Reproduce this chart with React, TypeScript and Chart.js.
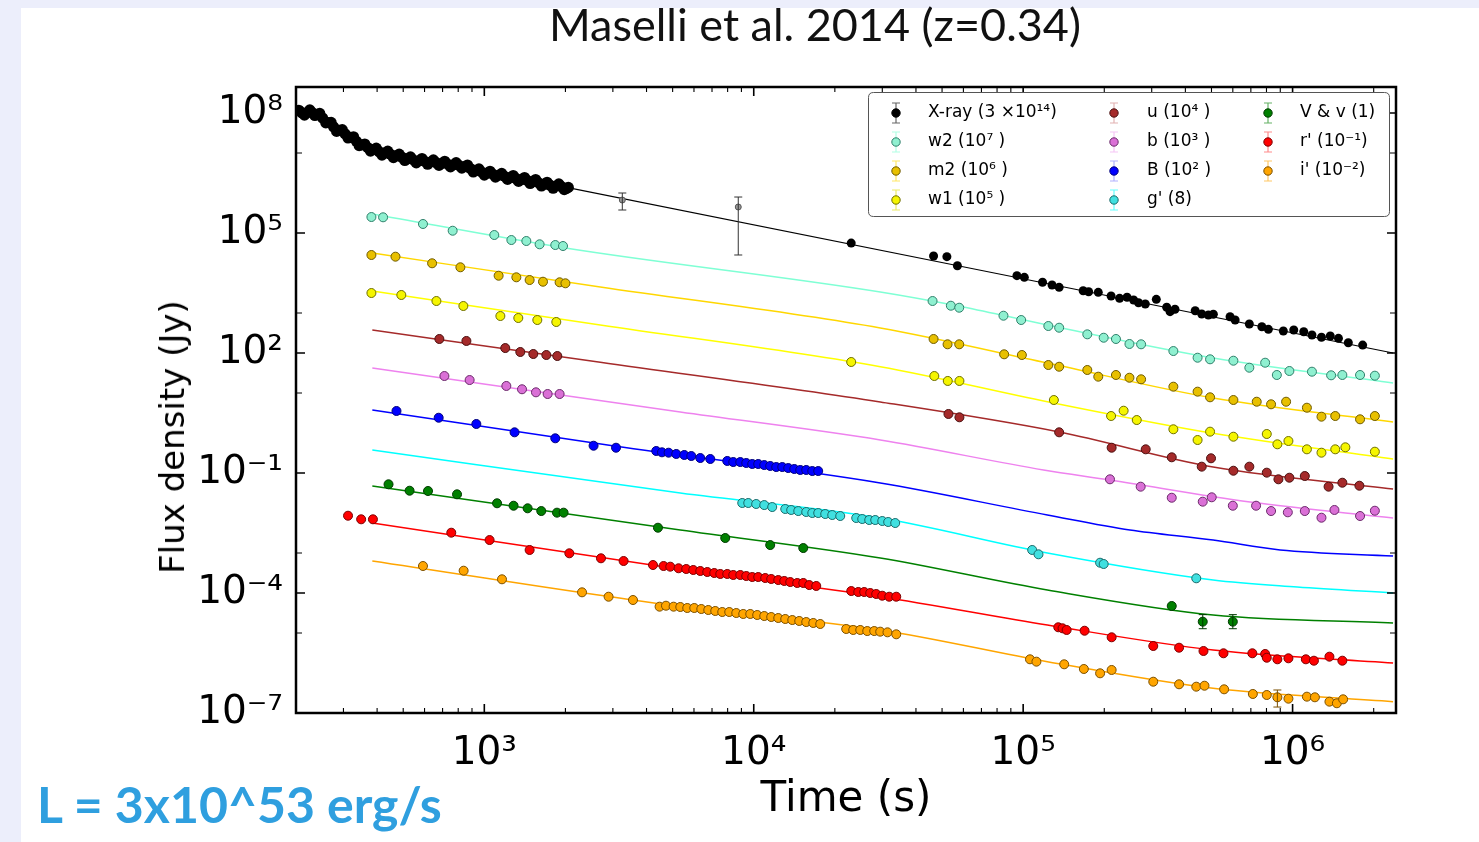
import React, { useEffect, useRef } from 'react';
import { Chart, registerables } from 'chart.js';
Chart.register(...registerables);

// ---------- axes ----------
const X_MIN = 200;
const X_MAX = 2.42e6;
const Y_MIN = 1e-7;
const Y_MAX = 4.47e8;
const xTickValues = [1e3, 1e4, 1e5, 1e6];
const xTickLabels = ['10³', '10⁴', '10⁵', '10⁶'];
const yTickValues = [1e-7, 1e-4, 1e-1, 1e2, 1e5, 1e8];
const yTickLabels = ['10⁻⁷', '10⁻⁴', '10⁻¹', '10²', '10⁵', '10⁸'];
const yMinorTickValues = [1e-5, 1e-3, 1e1, 1e3, 1e7];

// ---------- X-ray (x 3e14) ----------
// dense early band: upper/lower edge readings and centre-line readings
const xrayEarlyT = [205, 215, 225, 235, 245, 258, 270, 283, 297, 312, 327, 343, 360, 378, 397, 417, 438, 460, 483, 507, 532, 559, 587, 616, 647, 679, 713, 749, 786, 825, 866, 910, 955, 1000, 1050, 1100, 1160, 1220, 1280, 1340, 1410, 1480, 1550, 1630, 1710, 1800, 1890, 1980, 2050];
const xrayEarlyF = [1.17e8, 8.9e7, 1.2e8, 8.7e7, 9.8e7, 5.7e7, 5.8e7, 3.47e7, 3.85e7, 2.37e7, 2.54e7, 1.53e7, 1.68e7, 1.12e7, 1.32e7, 8.9e6, 1.11e7, 7.7e6, 9.4e6, 6.5e6, 8.0e6, 5.7e6, 7.3e6, 5.25e6, 6.7e6, 4.9e6, 6.2e6, 4.5e6, 5.75e6, 4.2e6, 5.0e6, 3.35e6, 4.0e6, 2.8e6, 3.5e6, 2.5e6, 3.1e6, 2.19e6, 2.74e6, 1.95e6, 2.44e6, 1.73e6, 2.17e6, 1.5e6, 1.86e6, 1.32e6, 1.69e6, 1.22e6, 1.38e6];
const xrayMidT = [210, 220, 230, 240, 251, 264, 276, 290, 304, 319, 335, 351, 369, 387, 407, 427, 449, 471, 495, 519, 545, 573, 601, 631, 663, 696, 731, 767, 805, 845, 888, 932, 977, 1025, 1075, 1130, 1190, 1250, 1310, 1375, 1445, 1515, 1590, 1670, 1755, 1845, 1935, 2015];
const xrayMidF = [1.02e8, 1.03e8, 1.02e8, 9.2e7, 7.5e7, 5.75e7, 4.49e7, 3.66e7, 3.02e7, 2.45e7, 1.97e7, 1.6e7, 1.37e7, 1.22e7, 1.08e7, 9.94e6, 9.25e6, 8.51e6, 7.82e6, 7.21e6, 6.75e6, 6.45e6, 6.19e6, 5.93e6, 5.73e6, 5.51e6, 5.28e6, 5.09e6, 4.91e6, 4.58e6, 4.09e6, 3.66e6, 3.35e6, 3.13e6, 2.96e6, 2.78e6, 2.61e6, 2.45e6, 2.31e6, 2.18e6, 2.05e6, 1.94e6, 1.8e6, 1.67e6, 1.57e6, 1.49e6, 1.44e6, 1.3e6];
const xrayLateT = [23000, 46500, 52100, 57000, 94800, 101000, 118000, 128000, 136000, 167000, 175000, 190000, 212000, 228000, 243000, 257000, 268000, 284000, 312000, 341000, 351000, 366000, 435000, 460000, 487000, 508000, 586000, 612000, 691000, 769000, 813000, 924000, 1010000, 1100000, 1180000, 1280000, 1380000, 1480000, 1610000, 1820000];
const xrayLateF = [5.6e4, 2.66e4, 2.56e4, 1.52e4, 8600, 7800, 5860, 5000, 4390, 3610, 3410, 3290, 2660, 2330, 2470, 2110, 1810, 1680, 2200, 1390, 1080, 1240, 1140, 944, 891, 928, 808, 668, 531, 454, 391, 355, 376, 341, 282, 247, 266, 233, 181, 158];
const xrayModelT = [2000, 2360000];
const xrayModelF = [1.41e6, 100];
const xrayBatT = [3252, 8760];
const xrayBatF = [6.68e5, 4.47e5];
const xrayBatLo = [3.76e5, 2.82e4];
const xrayBatHi = [1.0e6, 7.94e5];

// ---------- w2 (x 1e7) ----------
const w2T = [381, 421, 592, 763, 1089, 1260, 1432, 1604, 1834, 1959, 46100, 53900, 57900, 84500, 98300, 124000, 136000, 173000, 199000, 221000, 248000, 274000, 361000, 444000, 494000, 603000, 691000, 791000, 874000, 973000, 1180000, 1390000, 1530000, 1780000, 2020000];
const w2F = [2.51e5, 2.47e5, 1.68e5, 1.14e5, 8.91e4, 6.68e4, 6.31e4, 5.22e4, 5.01e4, 4.73e4, 1995, 1522, 1357, 856, 668, 473, 429, 293, 241, 224, 168, 165, 112, 76.3, 69.6, 64.2, 42.9, 57.2, 28.2, 35.5, 34.1, 27.7, 28.2, 28.2, 27.1];
const w2ModelT = [384, 2000, 29500, 59900, 123000, 507000, 2360000];
const w2ModelF = [2.99e5, 4.22e4, 3350, 1413, 501, 75, 17.8];

// ---------- m2 (x 1e6) ----------
const m2T = [381, 468, 640, 815, 1130, 1315, 1473, 1651, 1903, 2000, 46500, 52400, 57900, 85000, 98900, 124000, 136000, 173000, 190000, 221000, 248000, 274000, 361000, 444000, 494000, 603000, 736000, 832000, 946000, 1130000, 1280000, 1440000, 1780000, 2020000];
const m2F = [2.82e4, 2.56e4, 1.75e4, 1.39e4, 8560, 7810, 6680, 6060, 5855, 5530, 224, 165, 165, 92.8, 89.1, 50.1, 45.4, 37.6, 25.6, 28.2, 24.1, 22.0, 14.4, 10.8, 7.81, 6.68, 6.06, 5.22, 6.06, 4.29, 2.56, 2.66, 2.2, 2.66];
const m2ModelT = [384, 2694, 29500, 123000, 507000, 2360000];
const m2ModelF = [3.16e4, 4470, 422, 56.2, 7.5, 1.88];

// ---------- w1 (x 1e5) ----------
const w1T = [381, 492, 664, 836, 1147, 1337, 1573, 1850, 23000, 46800, 52500, 58000, 130000, 212000, 236000, 264000, 361000, 444000, 494000, 603000, 802000, 878000, 965000, 1130000, 1280000, 1440000, 1570000, 2020000];
const w1F = [3160, 2820, 1995, 1496, 841, 750, 668, 596, 59.6, 26.6, 20.0, 20.0, 6.68, 2.66, 3.61, 2.11, 1.24, 0.668, 1.08, 0.808, 0.944, 0.522, 0.631, 0.391, 0.322, 0.391, 0.439, 0.341];
const w1ModelT = [384, 2694, 29500, 123000, 507000, 2360000];
const w1ModelF = [3550, 501, 45.4, 6.06, 0.983, 0.224];

// ---------- u (x 1e4) ----------
const uT = [681, 858, 1196, 1360, 1520, 1699, 1866, 52800, 58000, 136000, 213000, 285000, 356000, 460000, 498000, 603000, 691000, 802000, 886000, 973000, 1110000, 1360000, 1530000, 1770000];
const uF = [224, 200, 133, 106, 94.4, 89.1, 84.1, 2.99, 2.47, 1.04, 0.429, 0.391, 0.247, 0.144, 0.233, 0.114, 0.144, 0.102, 0.0696, 0.0763, 0.0841, 0.0455, 0.0572, 0.0481];
const uModelT = [384, 2694, 29500, 136000, 507000, 2360000];
const uModelF = [376, 58.5, 5.96, 1.06, 0.141, 0.0398];

// ---------- b (x 1e3) ----------
const bT = [711, 882, 1207, 1380, 1555, 1718, 1903, 210000, 273000, 356000, 464000, 501000, 600000, 732000, 832000, 960000, 1110000, 1280000, 1430000, 1780000, 2020000];
const bF = [26.6, 21.1, 15.0, 12.4, 10.4, 9.44, 9.44, 0.0696, 0.0455, 0.0241, 0.0192, 0.0247, 0.0152, 0.0152, 0.0112, 0.0104, 0.0112, 0.00763, 0.0119, 0.00841, 0.0114];
const bModelT = [384, 5338, 29500, 119000, 210000, 695000, 2360000];
const bModelF = [42.2, 3.35, 0.668, 0.119, 0.0668, 0.0188, 0.0075];

// ---------- B (x 1e2) ----------
const BT = [472, 677, 934, 1295, 1834, 2544, 3082, 4346, 4564, 4830, 5157, 5524, 5863, 6332, 6897, 7974, 8393, 8914, 9380, 9872, 10390, 10940, 11510, 12120, 12760, 13430, 14140, 14880, 15660, 16490, 17350];
const BF = [3.55, 2.41, 1.68, 1.04, 0.737, 0.481, 0.429, 0.355, 0.329, 0.322, 0.299, 0.282, 0.266, 0.237, 0.224, 0.2, 0.188, 0.188, 0.178, 0.168, 0.168, 0.158, 0.15, 0.141, 0.141, 0.133, 0.126, 0.119, 0.119, 0.112, 0.112];
const BModelT = [384, 3037, 29500, 123000, 249000, 507000, 899000, 2360000];
const BModelF = [3.76, 0.473, 0.0562, 0.00891, 0.00376, 0.00211, 0.00119, 0.000841];

// ---------- g' (x 8) ----------
const gT = [9064, 9541, 10210, 10940, 11710, 13090, 13770, 14630, 15660, 16490, 17350, 18420, 19560, 20940, 24010, 25270, 26830, 28240, 29990, 31550, 33500, 108000, 114000, 193000, 199000, 439000];
const gF = [0.0178, 0.0178, 0.0168, 0.0158, 0.0141, 0.0126, 0.0119, 0.0112, 0.0106, 0.01, 0.01, 0.00944, 0.00891, 0.00841, 0.0075, 0.00708, 0.00668, 0.00668, 0.00631, 0.00596, 0.00562, 0.00119, 0.000928, 0.000572, 0.000531, 0.000233];
const gModelT = [384, 5338, 29500, 123000, 507000, 1040000, 2360000];
const gModelF = [0.376, 0.0316, 0.0075, 0.001, 0.000211, 0.000141, 0.0001];

// ---------- V & v (x 1) ----------
const vT = [441, 528, 618, 792, 1115, 1284, 1448, 1627, 1861, 1969, 4410, 7838, 11510, 15270, 356000, 464000, 600000];
const vF = [0.0522, 0.0361, 0.0355, 0.0293, 0.0175, 0.0152, 0.0131, 0.0112, 0.0102, 0.0102, 0.00429, 0.00237, 0.00158, 0.00133, 4.73e-5, 1.92e-5, 1.92e-5];
const vErrLo = [null, null, null, null, null, null, null, null, null, null, null, null, null, null, null, 1.28e-5, 1.28e-5];
const vErrHi = [null, null, null, null, null, null, null, null, null, null, null, null, null, null, null, 2.88e-5, 2.88e-5];
const vModelT = [384, 5338, 29500, 123000, 507000, 2360000];
const vModelF = [0.0473, 0.00376, 0.00075, 0.000119, 2.82e-5, 1.78e-5];

// ---------- r' (x 1e-1) ----------
const rT = [312, 349, 386, 754, 1046, 1473, 2068, 2710, 3288, 4227, 4627, 4899, 5260, 5616, 5964, 6332, 6722, 7135, 7512, 7974, 8393, 8914, 9380, 9872, 10390, 11030, 11610, 12330, 12980, 13660, 14500, 15270, 16070, 17060, 23010, 24430, 25700, 27060, 28480, 29990, 31830, 33800, 135000, 140000, 145000, 169000, 213000, 304000, 379000, 467000, 554000, 709000, 791000, 802000, 878000, 965000, 1120000, 1200000, 1370000, 1530000];
const rF = [0.00856, 0.00696, 0.00696, 0.00322, 0.00211, 0.00119, 0.000983, 0.000737, 0.000631, 0.000501, 0.000473, 0.000455, 0.000415, 0.000398, 0.000376, 0.000355, 0.000335, 0.000316, 0.000299, 0.000299, 0.000282, 0.000282, 0.000266, 0.000251, 0.000251, 0.000237, 0.000224, 0.000211, 0.0002, 0.000188, 0.000178, 0.000178, 0.000158, 0.00015, 0.000112, 0.000106, 0.000106, 0.0001, 9.44e-5, 8.56e-5, 8.08e-5, 8.08e-5, 1.39e-5, 1.31e-5, 1.19e-5, 1.14e-5, 7.81e-6, 4.73e-6, 4.29e-6, 3.55e-6, 3.11e-6, 3.11e-6, 2.99e-6, 2.41e-6, 2.2e-6, 2.33e-6, 2.2e-6, 2.03e-6, 2.56e-6, 2.03e-6];
const rModelT = [384, 5338, 29500, 123000, 507000, 2360000];
const rModelF = [0.00562, 0.000391, 8.08e-5, 1.58e-5, 3.76e-6, 1.78e-6];

// ---------- i' (x 1e-2) ----------
const iT = [592, 838, 1163, 2305, 2892, 3563, 4472, 4723, 5041, 5338, 5665, 6015, 6387, 6780, 7196, 7640, 8111, 8612, 9141, 9705, 10300, 10940, 11610, 12330, 13090, 13900, 14750, 15660, 16630, 17650, 22040, 23400, 24850, 26380, 28000, 29470, 31360, 33800, 106000, 112000, 142000, 168000, 193000, 213000, 304000, 379000, 439000, 471000, 557000, 712000, 802000, 878000, 965000, 1130000, 1210000, 1370000, 1460000, 1540000];
const iF = [0.000473, 0.000361, 0.00022, 0.000104, 8.08e-5, 6.68e-5, 4.55e-5, 4.81e-5, 4.55e-5, 4.47e-5, 4.22e-5, 4.22e-5, 3.98e-5, 3.76e-5, 3.55e-5, 3.35e-5, 3.35e-5, 3.16e-5, 2.99e-5, 2.99e-5, 2.82e-5, 2.66e-5, 2.51e-5, 2.37e-5, 2.24e-5, 2.11e-5, 2.0e-5, 1.88e-5, 1.78e-5, 1.68e-5, 1.26e-5, 1.19e-5, 1.19e-5, 1.12e-5, 1.12e-5, 1.08e-5, 1.04e-5, 9.28e-6, 2.2e-6, 1.92e-6, 1.65e-6, 1.26e-6, 9.83e-7, 1.19e-6, 6.06e-7, 5.22e-7, 4.55e-7, 4.81e-7, 3.91e-7, 2.99e-7, 2.82e-7, 2.47e-7, 2.28e-7, 2.56e-7, 2.47e-7, 1.92e-7, 1.75e-7, 2.2e-7];
const iErrLo = iT.map((t) => (t === 878000 ? 1.41e-7 : null));
const iErrHi = iT.map((t) => (t === 878000 ? 3.76e-7 : null));
const iModelT = [384, 5338, 29500, 123000, 507000, 2360000];
const iModelF = [0.000631, 4.55e-5, 1.19e-5, 1.92e-6, 4.14e-7, 1.92e-7];

const legendLabels = ['X-ray (3 ×10¹⁴)', 'w2 (10⁷ )', 'm2 (10⁶ )', 'w1 (10⁵ )', 'u (10⁴ )', 'b (10³ )', 'B (10² )', "g' (8)", 'V & v (1)', "r' (10⁻¹)", "i' (10⁻²)"];

// ---------- styles ----------
const bandStyles = [
  { fill: '#000000', edge: '#000000', line: '#000000', bar: '#000000' },
  { fill: '#8ff0d0', edge: '#2f7f6a', line: '#7fffd4', bar: '#7fffd4' },
  { fill: '#e8c000', edge: '#6e5a00', line: '#ffd700', bar: '#ffd700' },
  { fill: '#f5f500', edge: '#6e6e00', line: '#ffff00', bar: '#e0e000' },
  { fill: '#a52a2a', edge: '#4a1010', line: '#a52a2a', bar: '#d08080' },
  { fill: '#da70d6', edge: '#6a2a6a', line: '#ee82ee', bar: '#f0a0f0' },
  { fill: '#0000ff', edge: '#00007a', line: '#0000ff', bar: '#8080ff' },
  { fill: '#40e0e0', edge: '#1a6a6a', line: '#00ffff', bar: '#00ffff' },
  { fill: '#008000', edge: '#003a00', line: '#008000', bar: '#008000' },
  { fill: '#ff0000', edge: '#7a0000', line: '#ff0000', bar: '#ff4040' },
  { fill: '#ffa500', edge: '#7a4f00', line: '#ffa500', bar: '#ffa500' },
];

const pts = (t: number[], f: number[]) => t.map((v, i) => ({ x: v, y: f[i] }));

const bands: any[] = [
  { name: 'X-ray', data: pts(xrayLateT, xrayLateF), model: pts(xrayModelT, xrayModelF), r: 4.5 },
  { name: 'w2', data: pts(w2T, w2F), model: pts(w2ModelT, w2ModelF), r: 4.5 },
  { name: 'm2', data: pts(m2T, m2F), model: pts(m2ModelT, m2ModelF), r: 4.5 },
  { name: 'w1', data: pts(w1T, w1F), model: pts(w1ModelT, w1ModelF), r: 4.5 },
  { name: 'u', data: pts(uT, uF), model: pts(uModelT, uModelF), r: 4.5 },
  { name: 'b', data: pts(bT, bF), model: pts(bModelT, bModelF), r: 4.5 },
  { name: 'B', data: pts(BT, BF), model: pts(BModelT, BModelF), r: 4.5 },
  { name: "g'", data: pts(gT, gF), model: pts(gModelT, gModelF), r: 4.5 },
  { name: 'V & v', data: pts(vT, vF), model: pts(vModelT, vModelF), r: 4.5, lo: vErrLo, hi: vErrHi },
  { name: "r'", data: pts(rT, rF), model: pts(rModelT, rModelF), r: 4.5 },
  { name: "i'", data: pts(iT, iF), model: pts(iModelT, iModelF), r: 4.5, lo: iErrLo, hi: iErrHi },
];

function buildDatasets() {
  const ds: any[] = [];
  bands.forEach((b, k) => {
    const s = bandStyles[k];
    ds.push({
      label: b.name + ' model',
      data: b.model,
      showLine: true,
      borderColor: s.line,
      borderWidth: k === 0 ? 1.2 : 1.5,
      pointRadius: 0,
      cubicInterpolationMode: 'monotone',
      order: 3,
    });
  });
  ds.push({
    label: 'X-ray early',
    data: pts(xrayEarlyT, xrayEarlyF).concat(pts(xrayMidT, xrayMidF)),
    showLine: false,
    backgroundColor: '#000',
    borderColor: '#000',
    borderWidth: 0,
    pointRadius: 5.6,
    order: 1,
  });
  bands.forEach((b, k) => {
    const s = bandStyles[k];
    ds.push({
      label: b.name,
      data: b.data,
      showLine: false,
      backgroundColor: s.fill,
      borderColor: s.edge,
      borderWidth: k === 0 ? 0 : 1,
      pointRadius: b.r,
      errLo: b.lo,
      errHi: b.hi,
      errColor: s.edge,
      order: 1,
    });
  });
  ds.push({
    label: 'X-ray (BAT)',
    data: pts(xrayBatT, xrayBatF),
    showLine: false,
    backgroundColor: '#9a9a9a',
    borderColor: '#555555',
    borderWidth: 1,
    pointRadius: 3,
    errLo: xrayBatLo,
    errHi: xrayBatHi,
    errColor: '#333333',
    order: 1,
  });
  return ds;
}

const overlayPlugin = {
  id: 'overlay',
  afterDatasetsDraw(chart: any) {
    const ctx = chart.ctx;
    const xs = chart.scales.x;
    const ys = chart.scales.y;
    ctx.save();
    chart.data.datasets.forEach((d: any) => {
      if (!d.errLo) return;
      ctx.strokeStyle = d.errColor;
      ctx.lineWidth = 1;
      d.data.forEach((p: any, i: number) => {
        const lo = d.errLo[i];
        const hi = d.errHi[i];
        if (lo == null || hi == null) return;
        const x = xs.getPixelForValue(p.x);
        const y1 = ys.getPixelForValue(lo);
        const y2 = ys.getPixelForValue(hi);
        ctx.beginPath();
        ctx.moveTo(x, y1); ctx.lineTo(x, y2);
        ctx.moveTo(x - 4, y1); ctx.lineTo(x + 4, y1);
        ctx.moveTo(x - 4, y2); ctx.lineTo(x + 4, y2);
        ctx.stroke();
      });
    });
    ctx.restore();
  },
  afterDraw(chart: any) {
    const ctx = chart.ctx;
    const { left, right, top, bottom } = chart.chartArea;
    const xs = chart.scales.x;
    const ys = chart.scales.y;
    ctx.save();
    ctx.strokeStyle = '#000';
    const yt = (v: number, len: number, lw: number) => {
      const y = ys.getPixelForValue(v);
      ctx.lineWidth = lw;
      ctx.beginPath();
      ctx.moveTo(left, y); ctx.lineTo(left + len, y);
      ctx.moveTo(right, y); ctx.lineTo(right - len, y);
      ctx.stroke();
    };
    yTickValues.forEach((v) => yt(v, 9, 1.6));
    yMinorTickValues.forEach((v) => yt(v, 6, 1.2));
    for (let d = 2; d <= 6; d++) {
      for (let m = 1; m <= 9; m++) {
        const v = m * Math.pow(10, d);
        if (v < X_MIN || v > X_MAX) continue;
        const x = xs.getPixelForValue(v);
        const len = m === 1 ? 9 : 5;
        ctx.lineWidth = m === 1 ? 1.6 : 1.1;
        ctx.beginPath();
        ctx.moveTo(x, bottom); ctx.lineTo(x, bottom - len);
        ctx.moveTo(x, top); ctx.lineTo(x, top + len);
        ctx.stroke();
      }
    }
    ctx.lineWidth = 2.5;
    ctx.strokeRect(left, top, right - left, bottom - top);

    // legend
    const bx = 868.5, by = 92.5, bw = 521, bh = 124, rr = 5;
    ctx.beginPath();
    ctx.moveTo(bx + rr, by);
    ctx.lineTo(bx + bw - rr, by);
    ctx.quadraticCurveTo(bx + bw, by, bx + bw, by + rr);
    ctx.lineTo(bx + bw, by + bh - rr);
    ctx.quadraticCurveTo(bx + bw, by + bh, bx + bw - rr, by + bh);
    ctx.lineTo(bx + rr, by + bh);
    ctx.quadraticCurveTo(bx, by + bh, bx, by + bh - rr);
    ctx.lineTo(bx, by + rr);
    ctx.quadraticCurveTo(bx, by, bx + rr, by);
    ctx.closePath();
    ctx.fillStyle = '#fff';
    ctx.fill();
    ctx.lineWidth = 1;
    ctx.strokeStyle = '#555';
    ctx.stroke();
    const colX = [896, 1114, 1268];
    const textX = [928, 1147, 1300];
    const rowY = [113, 142, 171, 200];
    legendLabels.forEach((lab, i) => {
      const col = i < 4 ? 0 : i < 8 ? 1 : 2;
      const row = i < 4 ? i : i < 8 ? i - 4 : i - 8;
      const s = bandStyles[i];
      const mx = colX[col];
      const my = rowY[row];
      ctx.strokeStyle = s.bar;
      ctx.globalAlpha = 0.6;
      ctx.lineWidth = 1.2;
      ctx.beginPath();
      ctx.moveTo(mx, my - 10); ctx.lineTo(mx, my + 10);
      ctx.moveTo(mx - 4, my - 10); ctx.lineTo(mx + 4, my - 10);
      ctx.moveTo(mx - 4, my + 10); ctx.lineTo(mx + 4, my + 10);
      ctx.stroke();
      ctx.globalAlpha = 1;
      ctx.beginPath();
      ctx.arc(mx, my, 4.2, 0, Math.PI * 2);
      ctx.fillStyle = s.fill;
      ctx.fill();
      ctx.strokeStyle = s.edge;
      ctx.lineWidth = 1;
      ctx.stroke();
      ctx.fillStyle = '#000';
      ctx.font = '17px "DejaVu Sans"';
      ctx.textBaseline = 'middle';
      ctx.textAlign = 'left';
      ctx.fillText(lab, textX[col], my);
    });
    ctx.restore();
  },
};

export default function App() {
  const ref = useRef<HTMLCanvasElement>(null);
  useEffect(() => {
    const chart = new Chart(ref.current as HTMLCanvasElement, {
      type: 'scatter',
      data: { datasets: buildDatasets() },
      options: {
        animation: false,
        responsive: false,
        events: [],
        layout: { padding: { left: 0, top: 87, right: 83, bottom: 0 } },
        plugins: { legend: { display: false }, tooltip: { enabled: false }, title: { display: false } },
        scales: {
          x: {
            type: 'logarithmic',
            min: X_MIN,
            max: X_MAX,
            bounds: 'data',
            grid: { display: false, drawTicks: false },
            border: { display: false },
            afterBuildTicks: (s: any) => { s.ticks = xTickValues.map((v) => ({ value: v })); },
            afterFit: (s: any) => { s.height = 129; },
            ticks: {
              autoSkip: false,
              maxRotation: 0,
              padding: 17,
              color: '#000',
              font: { family: 'DejaVu Sans', size: 39 },
              callback: (_v: any, i: number) => xTickLabels[i],
            },
            title: {
              display: true,
              text: 'Time (s)',
              color: '#000',
              font: { family: 'DejaVu Sans', size: 42 },
              padding: { top: 0, bottom: 17 },
            },
          },
          y: {
            type: 'logarithmic',
            min: Y_MIN,
            max: Y_MAX,
            bounds: 'data',
            grid: { display: false, drawTicks: false },
            border: { display: false },
            afterBuildTicks: (s: any) => { s.ticks = yTickValues.map((v) => ({ value: v })); },
            afterFit: (s: any) => { s.width = 296; },
            ticks: {
              autoSkip: false,
              padding: 13,
              color: '#000',
              font: { family: 'DejaVu Sans', size: 39 },
              callback: (_v: any, i: number) => yTickLabels[i],
            },
          },
        },
      } as any,
      plugins: [overlayPlugin],
    });
    return () => chart.destroy();
  }, []);

  return (
    <div style={{ position: 'fixed', left: 0, top: 0, width: 1479, height: 842, background: '#eceefb', overflow: 'hidden' }}>
      <div style={{ position: 'absolute', left: 21, top: 8, right: 0, bottom: 0, background: '#ffffff' }} />
      <canvas ref={ref} width={1479} height={842} style={{ position: 'absolute', left: 0, top: 0, width: 1479, height: 842 }} />
      <div style={{ position: 'absolute', left: 815, top: 2, transform: 'translateX(-50%)', whiteSpace: 'nowrap', fontFamily: 'Lato', fontSize: 45, lineHeight: '45px', color: '#111' }}>
        Maselli et al. 2014 (z=0.34)
      </div>
      <div style={{ position: 'absolute', left: 172, top: 437, transform: 'translate(-50%, -50%) rotate(-90deg)', whiteSpace: 'nowrap', fontFamily: 'DejaVu Sans', fontSize: 34, lineHeight: '34px', color: '#000' }}>
        Flux density (Jy)
      </div>
      <div style={{ position: 'absolute', left: 37, top: 779, whiteSpace: 'nowrap', fontFamily: 'Lato', fontWeight: 700, fontSize: 50, lineHeight: '50px', color: '#2f9fdf' }}>
        L = 3x10^53 erg/s
      </div>
    </div>
  );
}
